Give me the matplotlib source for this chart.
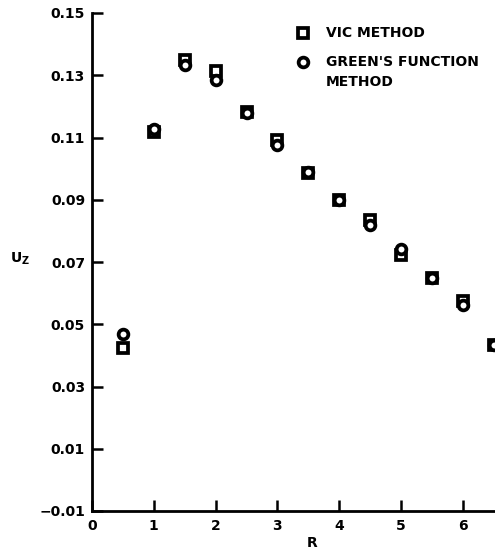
"""
Uz versus R: VIC method compared with the Green's function method
"""

import matplotlib
matplotlib.use("Agg")
import matplotlib.pyplot as plt

# Data
r_values = [0.5, 1.0, 1.5, 2.0, 2.5, 3.0, 3.5, 4.0, 4.5, 5.0, 5.5, 6.0, 6.5]
vic_uz = [0.0423, 0.1118, 0.1348, 0.1313, 0.1181, 0.1093, 0.0985, 0.0900,
          0.0836, 0.0724, 0.0650, 0.0576, 0.0433]
green_uz = [0.0468, 0.1128, 0.1333, 0.1285, 0.1180, 0.1077, 0.0990, 0.0900,
            0.0820, 0.0741, 0.0650, 0.0563, 0.0433]

x_ticks = [0, 1, 2, 3, 4, 5, 6]
y_ticks = [-0.01, 0.01, 0.03, 0.05, 0.07, 0.09, 0.11, 0.13, 0.15]
y_tick_labels = ["\u22120.01", "0.01", "0.03", "0.05", "0.07", "0.09",
                 "0.11", "0.13", "0.15"]

plt.rcParams["font.family"] = ["DejaVu Sans"]
plt.rcParams["font.weight"] = "bold"

fig = plt.figure(figsize=(4.95, 5.54), dpi=100)
ax = fig.add_axes([92 / 495, 43 / 554, 1 - 92 / 495, 498 / 554])

# Both series as open markers with heavy edges (the scan shows them nearly solid)
marker_style = dict(linestyle="none", markersize=7, markerfacecolor="white",
                    markeredgecolor="black", markeredgewidth=2.7)
ax.plot(r_values, vic_uz, marker="s", **marker_style)
ax.plot(r_values, green_uz, marker="o", **marker_style)

ax.set_xlim(0, 6.52)
ax.set_ylim(-0.01, 0.15)

ax.spines["top"].set_visible(False)
ax.spines["right"].set_visible(False)
for side in ["left", "bottom"]:
    ax.spines[side].set_linewidth(2)

ax.set_xticks(x_ticks)
ax.set_xticklabels([str(t) for t in x_ticks])
ax.set_yticks(y_ticks)
ax.set_yticklabels(y_tick_labels)
ax.tick_params(direction="in", length=8, width=1.8, labelsize=10, pad=5)
ax.tick_params(axis="x", pad=6)

# Axis labels placed like the original drawing
fig.text(20 / 495, 1 - 259 / 554, "U$_\\mathbf{Z}$", fontsize=10,
         fontweight="bold", ha="center", va="center")
fig.text(312 / 495, 1 - 543 / 554, "R", fontsize=10, fontweight="bold",
         ha="center", va="center")

# Hand-made legend in the upper right
key_x = 303 / 495
text_x = 326 / 495
ax.plot([key_x], [1 - 33 / 554], transform=fig.transFigure, clip_on=False,
        marker="s", **marker_style)
ax.plot([key_x], [1 - 62 / 554], transform=fig.transFigure, clip_on=False,
        marker="o", **marker_style)
fig.text(text_x, 1 - 33 / 554, "VIC METHOD", fontsize=10, fontweight="bold",
         va="center")
fig.text(text_x, 1 - 62 / 554, "GREEN'S FUNCTION", fontsize=10,
         fontweight="bold", va="center")
fig.text(text_x, 1 - 82 / 554, "METHOD", fontsize=10, fontweight="bold",
         va="center")

fig.savefig("out.png", dpi=100)
